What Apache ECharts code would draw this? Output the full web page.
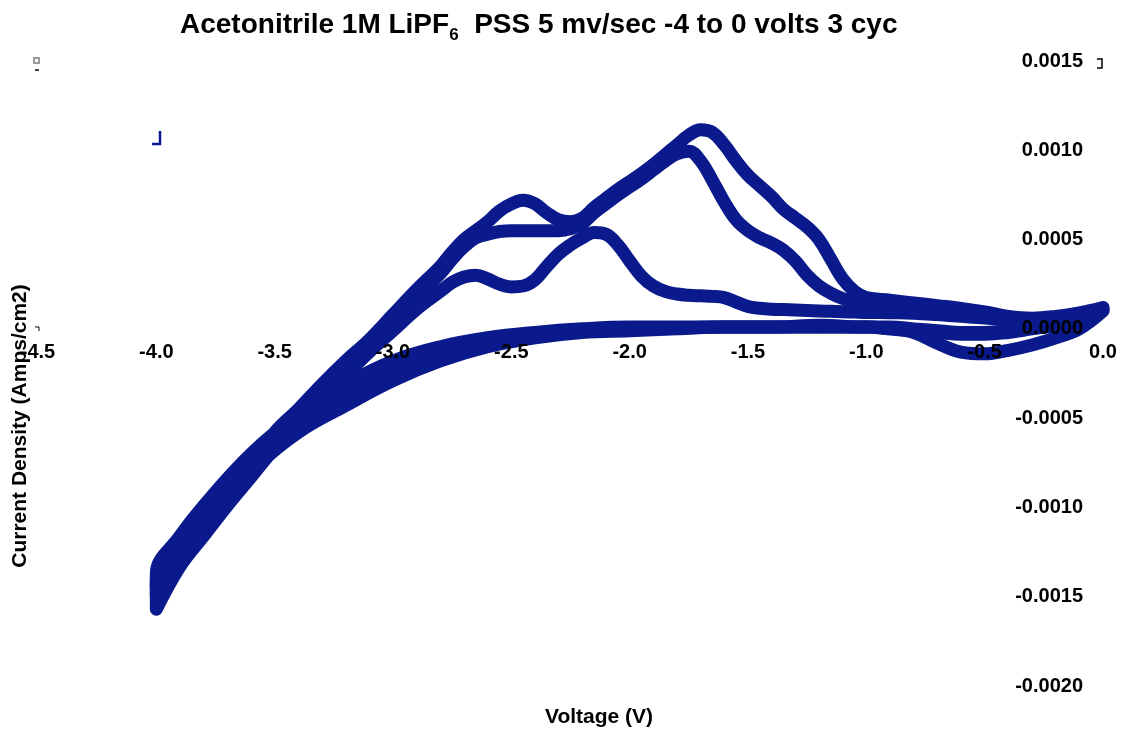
<!DOCTYPE html>
<html>
<head>
<meta charset="utf-8">
<script src="https://cdn.jsdelivr.net/npm/echarts@6/dist/echarts.min.js"></script>
<style>
  html, body { margin: 0; padding: 0; background: #fff; }
  #chart { width: 1128px; height: 733px; }
</style>
</head>
<body>
<div id="chart"></div>
<script>
// Cathodic sweeps: 0 V down to -4 V (current density, A/cm2)
const cathV = [0.0, -0.1, -0.2, -0.3, -0.4, -0.5, -0.6, -0.7, -0.8, -0.9, -1.0, -1.2, -1.4, -1.6, -1.8,
               -2.0, -2.2, -2.4, -2.6, -2.8, -3.0, -3.2, -3.4, -3.6, -3.8, -3.9, -4.0];
const cathCyc1 = [1.0e-4, 0.0e-4, -0.5e-4, -0.9e-4, -1.2e-4, -1.4e-4, -1.3e-4, -0.8e-4, -0.2e-4, 0.0e-4, 0.1e-4,
                  0.1e-4, 0.1e-4, 0.1e-4, 0.0e-4, -0.1e-4, -0.2e-4, -0.5e-4, -1.0e-4, -1.8e-4, -2.9e-4, -4.3e-4,
                  -5.8e-4, -8.0e-4, -10.8e-4, -12.4e-4, -14.3e-4];
const cathCyc2 = [1.1e-4, 0.5e-4, 0.2e-4, 0.0e-4, -0.2e-4, -0.3e-4, -0.3e-4, -0.2e-4, -0.1e-4, 0.0e-4, 0.1e-4,
                  0.1e-4, 0.1e-4, 0.1e-4, 0.05e-4, 0.0e-4, -0.1e-4, -0.3e-4, -0.7e-4, -1.4e-4, -2.3e-4, -3.7e-4,
                  -5.3e-4, -7.5e-4, -10.3e-4, -12.0e-4, -14.0e-4];
const cathCyc3 = [1.2e-4, 0.6e-4, 0.3e-4, 0.1e-4, -0.1e-4, -0.2e-4, -0.2e-4, -0.1e-4, 0.0e-4, 0.1e-4, 0.1e-4,
                  0.2e-4, 0.1e-4, 0.1e-4, 0.1e-4, 0.1e-4, 0.0e-4, -0.2e-4, -0.5e-4, -1.0e-4, -1.8e-4, -3.1e-4,
                  -4.8e-4, -7.0e-4, -9.9e-4, -11.6e-4, -13.7e-4];

// Anodic sweeps: -4 V back up to 0 V
const anodV = [-4.0, -3.9, -3.8, -3.7, -3.6, -3.5, -3.4, -3.3, -3.2, -3.1, -3.0, -2.9, -2.8,
               -2.75, -2.7, -2.65, -2.6, -2.55, -2.5, -2.45, -2.4, -2.35, -2.3, -2.25, -2.2, -2.15, -2.1,
               -2.05, -2.0, -1.95, -1.9, -1.85, -1.8, -1.75, -1.7, -1.65, -1.6, -1.55, -1.5, -1.45, -1.4,
               -1.35, -1.3, -1.25, -1.2, -1.15, -1.1, -1.05, -1.0,
               -0.9, -0.8, -0.7, -0.6, -0.5, -0.4, -0.3, -0.2, -0.1, 0.0];
const anodCyc1 = [-15.7e-4, -13.3e-4, -11.6e-4, -9.9e-4, -8.3e-4, -6.7e-4, -5.3e-4, -3.9e-4, -2.6e-4, -1.3e-4, -0.1e-4, 1.1e-4, 2.1e-4,
                  2.6e-4, 2.9e-4, 3.0e-4, 2.8e-4, 2.5e-4, 2.35e-4, 2.4e-4, 2.75e-4, 3.5e-4, 4.2e-4, 4.7e-4, 5.1e-4, 5.4e-4, 5.3e-4,
                  4.7e-4, 3.8e-4, 2.95e-4, 2.4e-4, 2.1e-4, 1.95e-4, 1.88e-4, 1.85e-4, 1.82e-4, 1.75e-4, 1.5e-4, 1.25e-4, 1.15e-4, 1.1e-4,
                  1.08e-4, 1.05e-4, 1.03e-4, 1.0e-4, 0.98e-4, 0.96e-4, 0.94e-4, 0.92e-4,
                  0.9e-4, 0.88e-4, 0.8e-4, 0.7e-4, 0.6e-4, 0.5e-4, 0.45e-4, 0.5e-4, 0.7e-4, 1.0e-4];
const anodCyc2 = [-15.0e-4, -12.9e-4, -11.3e-4, -9.6e-4, -8.0e-4, -6.2e-4, -4.9e-4, -3.5e-4, -2.1e-4, -0.9e-4, 0.5e-4, 1.8e-4, 3.1e-4,
                  3.9e-4, 4.6e-4, 5.1e-4, 5.3e-4, 5.45e-4, 5.5e-4, 5.5e-4, 5.5e-4, 5.5e-4, 5.5e-4, 5.6e-4, 5.9e-4, 6.5e-4, 7.0e-4,
                  7.5e-4, 7.95e-4, 8.4e-4, 8.9e-4, 9.4e-4, 9.8e-4, 9.95e-4, 9.4e-4, 8.3e-4, 7.1e-4, 6.1e-4, 5.5e-4, 5.1e-4, 4.8e-4,
                  4.4e-4, 3.8e-4, 3.0e-4, 2.4e-4, 2.0e-4, 1.7e-4, 1.5e-4, 1.3e-4,
                  1.2e-4, 1.15e-4, 1.1e-4, 1.0e-4, 0.8e-4, 0.6e-4, 0.55e-4, 0.6e-4, 0.8e-4, 1.1e-4];
const anodCyc3 = [-14.5e-4, -12.6e-4, -11.0e-4, -9.3e-4, -7.6e-4, -5.8e-4, -4.5e-4, -3.1e-4, -1.8e-4, -0.6e-4, 0.8e-4, 2.2e-4, 3.5e-4,
                  4.3e-4, 5.0e-4, 5.5e-4, 6.0e-4, 6.6e-4, 7.0e-4, 7.2e-4, 7.0e-4, 6.5e-4, 6.1e-4, 6.0e-4, 6.2e-4, 6.8e-4, 7.3e-4,
                  7.8e-4, 8.25e-4, 8.7e-4, 9.2e-4, 9.75e-4, 10.3e-4, 10.85e-4, 11.15e-4, 11.0e-4, 10.3e-4, 9.4e-4, 8.6e-4, 8.0e-4, 7.4e-4,
                  6.7e-4, 6.2e-4, 5.7e-4, 5.0e-4, 3.9e-4, 2.8e-4, 2.1e-4, 1.75e-4,
                  1.6e-4, 1.45e-4, 1.3e-4, 1.15e-4, 0.95e-4, 0.7e-4, 0.6e-4, 0.7e-4, 0.9e-4, 1.2e-4];

// Axis ranges and tick spacing
const voltageRange = [-4.5, 0.0];
const voltageStep = 0.5;
const currentRange = [-0.0020, 0.0015];
const currentStep = 0.0005;

const FONT = '"Liberation Sans", Arial, Helvetica, sans-serif';
const TRACE = '#0a1a8c';

// plot area, in pixels
const GRID = { left: 38, right: 25, top: 61, bottom: 47 };
const CHART_H = 733;

function pairs(v, c) { return v.map((x, i) => [x, c[i]]); }
const cycles = [
  pairs(cathV, cathCyc1).concat(pairs(anodV, anodCyc1)),
  pairs(cathV, cathCyc2).concat(pairs(anodV, anodCyc2)),
  pairs(cathV, cathCyc3).concat(pairs(anodV, anodCyc3))
];

// the voltage axis runs along zero current: lift it from the grid bottom to there
const plotH = CHART_H - GRID.top - GRID.bottom;
const zeroFromBottom = plotH * (0 - currentRange[0]) / (currentRange[1] - currentRange[0]);

const chart = echarts.init(document.getElementById('chart'), null, { renderer: 'canvas' });

const labelStyle = { fontFamily: FONT, fontWeight: 'bold', fontSize: 20, color: '#000' };

chart.setOption({
  backgroundColor: '#fff',
  animation: false,
  title: {
    text: '{m|Acetonitrile 1M LiPF}{s|6}{m|  PSS 5 mv/sec -4 to 0 volts 3 cyc}',
    left: 180,
    top: 6,
    padding: 0,
    textStyle: {
      rich: {
        m: { fontFamily: FONT, fontWeight: 'bold', fontSize: 28, lineHeight: 38, color: '#000' },
        s: { fontFamily: FONT, fontWeight: 'bold', fontSize: 17, lineHeight: 12, verticalAlign: 'bottom', color: '#000' }
      }
    }
  },
  grid: Object.assign({ containLabel: false }, GRID),
  xAxis: {
    type: 'value',
    min: voltageRange[0],
    max: voltageRange[1],
    interval: voltageStep,
    z: 10,
    offset: -zeroFromBottom,
    axisLine: { show: false, onZero: false },
    axisTick: { show: false },
    splitLine: { show: false },
    axisLabel: Object.assign({
      margin: 14,
      showMinLabel: true,
      showMaxLabel: true,
      formatter: v => v.toFixed(1)
    }, labelStyle)
  },
  yAxis: {
    type: 'value',
    position: 'right',
    min: currentRange[0],
    max: currentRange[1],
    interval: currentStep,
    z: 10,
    axisLine: { show: false, onZero: false },
    axisTick: { show: false },
    splitLine: { show: false },
    axisLabel: Object.assign({
      inside: true,
      margin: 20,
      showMinLabel: true,
      showMaxLabel: true,
      formatter: v => v.toFixed(4)
    }, labelStyle)
  },
  series: cycles.map((d, i) => ({
    name: 'Cycle ' + (i + 1),
    type: 'line',
    data: d,
    showSymbol: false,
    smooth: 0.4,
    z: 2,
    lineStyle: { color: TRACE, width: 13, cap: 'round', join: 'round' },
    itemStyle: { color: TRACE }
  })),
  graphic: [
    {
      type: 'text', x: 20, y: 426, rotation: Math.PI / 2, z: 20,
      style: { text: 'Current Density (Amps/cm2)', fontFamily: FONT, fontWeight: 'bold', fontSize: 21,
               fill: '#000', align: 'center', verticalAlign: 'middle' }
    },
    {
      type: 'text', x: 599, y: 717, z: 20,
      style: { text: 'Voltage (V)', fontFamily: FONT, fontWeight: 'bold', fontSize: 21,
               fill: '#000', align: 'center', verticalAlign: 'middle' }
    },
    // small corner glyphs around the plot frame
    { type: 'rect', shape: { x: 34, y: 58, width: 5, height: 5 }, style: { fill: 'none', stroke: '#999', lineWidth: 2 } },
    { type: 'line', shape: { x1: 35, y1: 70, x2: 39, y2: 70 }, style: { stroke: '#000', lineWidth: 1.5 } },
    { type: 'polyline', shape: { points: [[35, 327], [39, 327], [39, 331]] }, style: { fill: 'none', stroke: '#000', lineWidth: 1 } },
    { type: 'polyline', shape: { points: [[1097, 59], [1102, 59], [1102, 68], [1097, 68]] }, style: { fill: 'none', stroke: '#000', lineWidth: 1.5 } },
    { type: 'polyline', shape: { points: [[160, 131], [160, 144], [152, 144]] }, style: { fill: 'none', stroke: TRACE, lineWidth: 2.5 } }
  ]
});
</script>
</body>
</html>
